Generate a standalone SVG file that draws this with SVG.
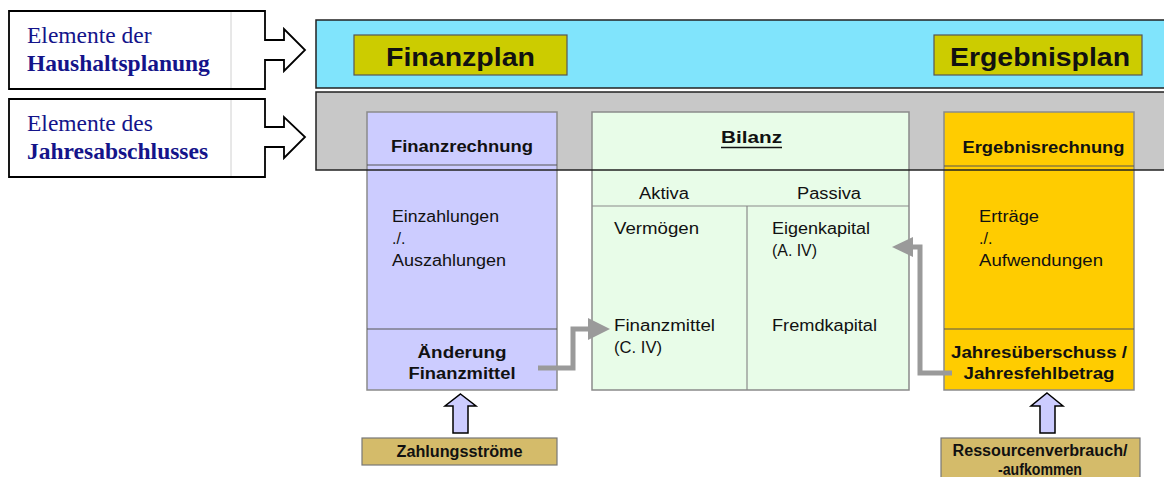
<svg xmlns="http://www.w3.org/2000/svg" width="1164" height="477" viewBox="0 0 1164 477">
<style>
.s{font-family:"Liberation Serif","Times New Roman",serif;font-size:23.5px;fill:#14148a}
.t{font-family:"Liberation Sans",Arial,sans-serif;font-size:16px;fill:#111}
.b{font-weight:bold}
.c{text-anchor:middle}
.big{font-family:"Liberation Sans",Arial,sans-serif;font-size:25px;font-weight:bold;fill:#111;text-anchor:middle}
.col{stroke:#8a8a8a;stroke-width:1.5}
.conn{fill:none;stroke:#9a9a9a;stroke-width:5}
.head{fill:#9a9a9a}
.up{fill:#ccccff;stroke:#000;stroke-width:1.5}
.tan{fill:#d4bb6a;stroke:#777;stroke-width:1.2}
</style>
<rect width="1164" height="477" fill="#fff"/>

<g id="label-haushaltsplanung">
<path d="M9,11 H265 V40 H284 V29 L305,50 L284,71 V60 H265 V89 H9 Z" fill="#fff" stroke="#000" stroke-width="1.8"/>
<line x1="231" y1="12" x2="231" y2="88" stroke="#d0d0d0" stroke-width="1"/>
<text class="s" x="27" y="43">Elemente der</text>
<text class="s" x="27" y="71" font-weight="bold">Haushaltsplanung</text>
</g>

<g id="label-jahresabschluss">
<path d="M9,99 H265 V127 H284 V117 L305,137 L284,158 V147 H265 V177 H9 Z" fill="#fff" stroke="#000" stroke-width="1.8"/>
<line x1="231" y1="100" x2="231" y2="176" stroke="#d0d0d0" stroke-width="1"/>
<text class="s" x="27" y="131">Elemente des</text>
<text class="s" x="27" y="159" font-weight="bold">Jahresabschlusses</text>
</g>

<g id="band-planung">
<rect x="316" y="20" width="850" height="68" fill="#80e4fc" stroke="#222" stroke-width="1.5"/>
<g id="finanzplan">
<rect x="354" y="35" width="213" height="40" fill="#cccc00" stroke="#555" stroke-width="1.2"/>
<text class="big" x="460.5" y="66" textLength="149" lengthAdjust="spacingAndGlyphs">Finanzplan</text>
</g>
<g id="ergebnisplan">
<rect x="934" y="35" width="208" height="40" fill="#cccc00" stroke="#555" stroke-width="1.2"/>
<text class="big" x="1040" y="66" textLength="180" lengthAdjust="spacingAndGlyphs">Ergebnisplan</text>
</g>
</g>

<rect id="band-abschluss-fill" x="316" y="92" width="850" height="78" fill="#c8c8c8"/>

<g id="finanzrechnung">
<rect x="367" y="112" width="190" height="278" fill="#ccccff" class="col"/>
<line x1="367" y1="165" x2="557" y2="165" stroke="#555" stroke-width="1.2"/>
<line x1="367" y1="329" x2="557" y2="329" stroke="#555" stroke-width="1.2"/>
<text class="t b c" x="462" y="152" textLength="142" lengthAdjust="spacingAndGlyphs">Finanzrechnung</text>
<text class="t" x="392" y="222" textLength="107" lengthAdjust="spacingAndGlyphs">Einzahlungen</text>
<text class="t" x="392" y="244">./.</text>
<text class="t" x="392" y="266" textLength="114" lengthAdjust="spacingAndGlyphs">Auszahlungen</text>
<text class="t b c" x="462" y="358" textLength="89" lengthAdjust="spacingAndGlyphs">Änderung</text>
<text class="t b c" x="462" y="379" textLength="107" lengthAdjust="spacingAndGlyphs">Finanzmittel</text>
</g>

<g id="bilanz">
<rect x="592" y="112" width="317" height="278" fill="#e8fce8" class="col"/>
<line x1="592" y1="206" x2="909" y2="206" stroke="#8a8a8a" stroke-width="1.2"/>
<line x1="747" y1="206" x2="747" y2="390" stroke="#8a8a8a" stroke-width="1.2"/>
<text class="t b c" x="751.5" y="143" font-size="17" textLength="61" lengthAdjust="spacingAndGlyphs">Bilanz</text>
<line x1="721" y1="147.5" x2="782" y2="147.5" stroke="#111" stroke-width="1.6"/>
<text class="t c" x="664" y="199" textLength="50" lengthAdjust="spacingAndGlyphs">Aktiva</text>
<text class="t c" x="829" y="199" textLength="64" lengthAdjust="spacingAndGlyphs">Passiva</text>
<text class="t" x="614" y="234" textLength="85" lengthAdjust="spacingAndGlyphs">Vermögen</text>
<text class="t" x="772" y="234" textLength="98" lengthAdjust="spacingAndGlyphs">Eigenkapital</text>
<text class="t" x="772" y="256" font-size="15" textLength="45" lengthAdjust="spacingAndGlyphs">(A. IV)</text>
<text class="t" x="614" y="331" textLength="101" lengthAdjust="spacingAndGlyphs">Finanzmittel</text>
<text class="t" x="614" y="353" font-size="15" textLength="48" lengthAdjust="spacingAndGlyphs">(C. IV)</text>
<text class="t" x="772" y="331" textLength="105" lengthAdjust="spacingAndGlyphs">Fremdkapital</text>
</g>

<g id="ergebnisrechnung">
<rect x="944" y="112" width="190" height="278" fill="#ffcc00" class="col"/>
<line x1="944" y1="166" x2="1134" y2="166" stroke="#555" stroke-width="1.2"/>
<line x1="944" y1="329" x2="1134" y2="329" stroke="#555" stroke-width="1.2"/>
<text class="t b c" x="1043.5" y="153" textLength="162" lengthAdjust="spacingAndGlyphs">Ergebnisrechnung</text>
<text class="t" x="979" y="222" textLength="60" lengthAdjust="spacingAndGlyphs">Erträge</text>
<text class="t" x="979" y="244">./.</text>
<text class="t" x="979" y="266" textLength="124" lengthAdjust="spacingAndGlyphs">Aufwendungen</text>
<text class="t b c" x="1039" y="358" textLength="176" lengthAdjust="spacingAndGlyphs">Jahresüberschuss /</text>
<text class="t b c" x="1039" y="379" textLength="151" lengthAdjust="spacingAndGlyphs">Jahresfehlbetrag</text>
</g>

<rect id="band-abschluss" x="316" y="92" width="850" height="78" fill="none" stroke="#222" stroke-width="1.5"/>

<g id="zahlungsstroeme">
<rect x="362" y="438" width="195" height="27" class="tan"/>
<text class="t b c" x="459.5" y="457" font-size="15" textLength="126" lengthAdjust="spacingAndGlyphs">Zahlungsströme</text>
</g>

<g id="ressourcen">
<rect x="941" y="438" width="199" height="45" class="tan"/>
<text class="t b c" x="1040" y="456" font-size="15" textLength="175" lengthAdjust="spacingAndGlyphs">Ressourcenverbrauch/</text>
<text class="t b c" x="1040" y="475" font-size="15" textLength="84" lengthAdjust="spacingAndGlyphs">-aufkommen</text>
</g>

<g id="connectors">
<path class="conn" d="M538,368 H573 V329 H592"/>
<polygon class="head" points="588,318 610,329 588,340"/>
<path class="conn" d="M952,373 H920 V247 H910"/>
<polygon class="head" points="913,237 892,247 913,257"/>
<polygon class="up" points="460.5,394 476,406 468,406 468,433 453,433 453,406 445,406"/>
<polygon class="up" points="1047,393 1063,406 1055,406 1055,433 1040,433 1040,406 1031,406"/>
</g>
</svg>
